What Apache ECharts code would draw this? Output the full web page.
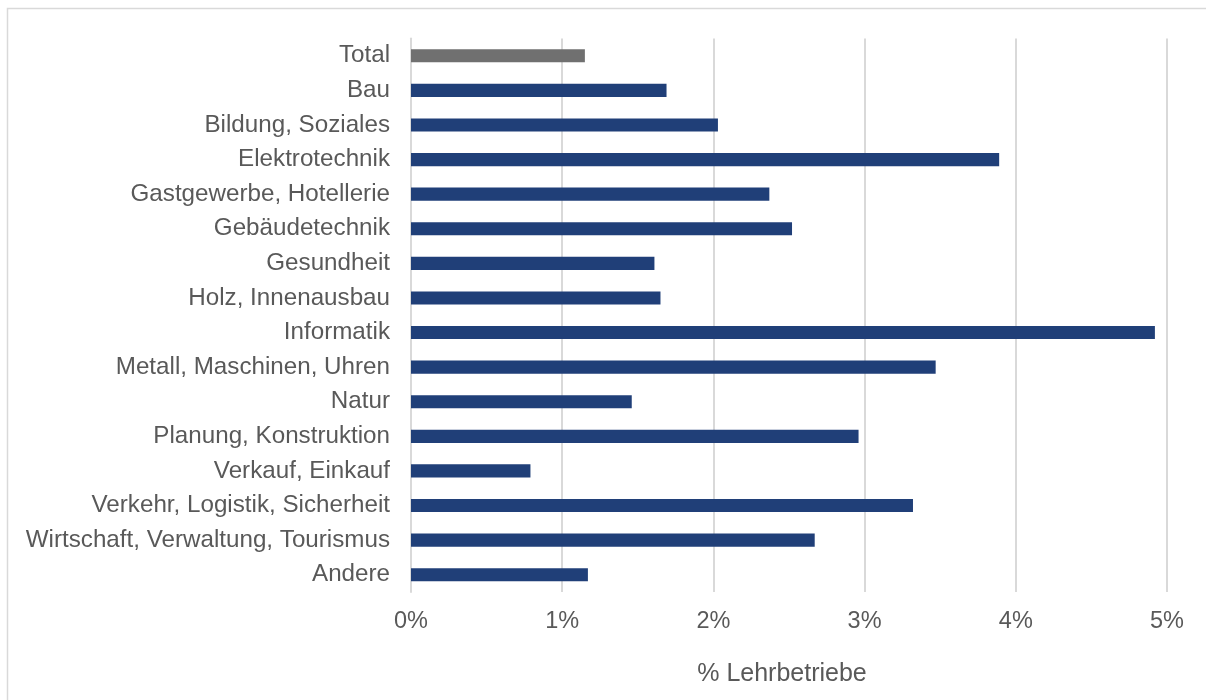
<!DOCTYPE html>
<html>
<head>
<meta charset="utf-8">
<script src="https://cdn.jsdelivr.net/npm/echarts@6/dist/echarts.min.js"></script>
<style>
  html, body { margin: 0; padding: 0; background: #ffffff; }
  #chart { width: 1206px; height: 700px; }
</style>
</head>
<body>
<div id="chart"></div>
<script>
// Anteil Lehrbetriebe je Berufsfeld (in %)
const categories = [
  'Total', 'Bau', 'Bildung, Soziales', 'Elektrotechnik', 'Gastgewerbe, Hotellerie',
  'Gebäudetechnik', 'Gesundheit', 'Holz, Innenausbau', 'Informatik',
  'Metall, Maschinen, Uhren', 'Natur', 'Planung, Konstruktion', 'Verkauf, Einkauf',
  'Verkehr, Logistik, Sicherheit', 'Wirtschaft, Verwaltung, Tourismus', 'Andere'
];
const values = [
  1.15, 1.69, 2.03, 3.89, 2.37,
  2.52, 1.61, 1.65, 4.92,
  3.47, 1.46, 2.96, 0.79,
  3.32, 2.67, 1.17
];
const xTicks = { min: 0, max: 5, interval: 1 };
const axisTitle = '% Lehrbetriebe';

const TEXT = '#595959';
const FONT = '"Liberation Sans", Arial, sans-serif';
const NAVY = '#203F78';
const GREY = '#707070';

const chart = echarts.init(document.getElementById('chart'), null, { renderer: 'canvas' });

chart.setOption({
  backgroundColor: '#ffffff',
  animation: false,
  graphic: [{
    type: 'rect',
    shape: { x: 7.5, y: 8.5, width: 1400, height: 900 },
    style: { fill: 'none', stroke: '#d9d9d9', lineWidth: 1.5 },
    silent: true,
    z: -10
  }],
  grid: { left: 411, right: 39, top: 38.5, bottom: 108, containLabel: false },
  xAxis: {
    type: 'value',
    min: xTicks.min,
    max: xTicks.max,
    interval: xTicks.interval,
    name: axisTitle,
    nameLocation: 'middle',
    nameGap: 70,
    nameTextStyle: { color: TEXT, fontSize: 25, fontFamily: FONT, padding: [0, 14, 0, 0] },
    axisLine: { show: false },
    axisTick: { show: false },
    axisLabel: {
      color: TEXT, fontSize: 23.5, fontFamily: FONT, margin: 18,
      formatter: v => v + '%'
    },
    splitLine: { show: true, lineStyle: { color: '#d9d9d9', width: 2 } }
  },
  yAxis: {
    type: 'category',
    data: categories,
    inverse: true,
    axisLine: { show: true, lineStyle: { color: '#d9d9d9', width: 2 } },
    axisTick: { show: false },
    axisLabel: { color: TEXT, fontSize: 24.2, fontFamily: FONT, margin: 21 },
    splitLine: { show: false }
  },
  series: [{
    type: 'bar',
    data: values.map((v, i) => ({
      value: v,
      itemStyle: { color: categories[i] === 'Total' ? GREY : NAVY }
    })),
    barCategoryGap: '62%',
    silent: true
  }]
});
</script>
</body>
</html>
